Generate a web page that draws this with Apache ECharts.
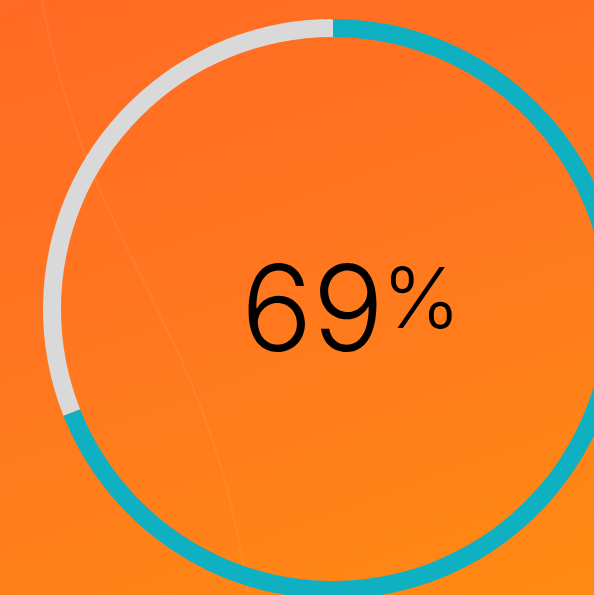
<!DOCTYPE html>
<html>
<head>
<meta charset="utf-8">
<script src="https://cdn.jsdelivr.net/npm/echarts@6/dist/echarts.min.js"></script>
<style>
html,body{margin:0;padding:0;width:594px;height:595px;overflow:hidden;
background:linear-gradient(160deg,#FF6A24 0%,#FF7620 45%,#FF8A12 100%);}
#c{width:594px;height:595px;}
</style>
</head>
<body>
<div id="c"></div>
<script>
const categories = ['Completed', 'Remaining'];
const values = [69, 31];
const percentLabel = '69';

const chart = echarts.init(document.getElementById('c'), null, {renderer: 'canvas'});
chart.setOption({
  backgroundColor: 'transparent',
  animation: false,
  graphic: [
    {
      type: 'bezierCurve',
      silent: true,
      shape: {x1: 42, y1: 0, cpx1: 90, cpy1: 260, cpx2: 210, cpy2: 320, x2: 248, y2: 595},
      style: {stroke: 'rgba(255,255,255,0.07)', lineWidth: 2, fill: null}
    },
    {
      type: 'text',
      left: 241, top: 256,
      style: {text: percentLabel, font: '300 119px Inter, "Open Sans", sans-serif', fill: '#000'}
    },
    {
      type: 'text',
      left: 382, top: 261,
      style: {text: '%', font: '300 84px Inter, "Open Sans", sans-serif', fill: '#000'}
    }
  ],
  series: [{
    type: 'pie',
    center: [333, 309],
    radius: [272, 290],
    startAngle: 90,
    clockwise: true,
    silent: true,
    label: {show: false},
    labelLine: {show: false},
    data: categories.map((n, i) => ({
      name: n, value: values[i],
      itemStyle: {color: i === 0 ? '#0FB0C1' : '#D9D9D9', borderWidth: 0}
    }))
  }]
});
</script>
</body>
</html>
